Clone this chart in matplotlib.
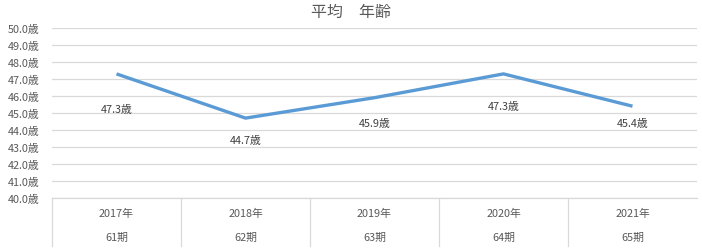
import matplotlib
matplotlib.use("Agg")
import matplotlib.pyplot as plt
import matplotlib.transforms as mtransforms

plt.rcParams['font.family'] = ['Noto Sans CJK JP', 'DejaVu Sans']

years = ["2017年", "2018年", "2019年", "2020年", "2021年"]
periods = ["61期", "62期", "63期", "64期", "65期"]
ages = [47.3, 44.7, 45.9, 47.3, 45.4]
yticks = [40, 41, 42, 43, 44, 45, 46, 47, 48, 49, 50]

title = "平均　年齢"
text_color = "#595959"
grid_color = "#D9D9D9"
line_color = "#5B9BD5"
label_offsets = [-25, -16, -18, -23, -12]  # points, style only

fig = plt.figure(figsize=(7.02, 2.51), dpi=100)
ax = fig.add_axes([52/702, 1-199/251, 645/702, 170/251])

x = list(range(len(ages)))
ax.plot(x, ages, color=line_color, lw=2.4, solid_capstyle='butt', zorder=3)
for xi, v, off in zip(x, ages, label_offsets):
    ax.annotate(f"{v:.1f}歳", (xi, v), xytext=(0, off), textcoords='offset points',
                ha='center', va='center', fontsize=7.8, color='#404040')

ax.set_xlim(-0.5, len(ages) - 0.5)
ax.set_ylim(40, 50)
ax.set_yticks(yticks)
ax.set_yticklabels([f"{t:.1f}歳" for t in yticks], fontsize=7.8, color=text_color)
ax.tick_params(axis='y', length=0, pad=9)
ax.set_xticks([])
ax.grid(axis='y', color=grid_color, lw=0.9)
for s in ['top', 'right', 'left']:
    ax.spines[s].set_visible(False)
ax.spines['bottom'].set_color(grid_color)
ax.spines['bottom'].set_linewidth(0.9)

trans = mtransforms.blended_transform_factory(ax.transData, ax.transAxes)
for b in [i - 0.5 for i in range(len(ages))]:
    ax.plot([b, b], [0, -48/170], transform=trans, color=grid_color, lw=0.9, clip_on=False)
for xi, yr, pr in zip(x, years, periods):
    ax.text(xi, -15/170, yr, transform=trans, ha='center', va='center', fontsize=7.8, color=text_color)
    ax.text(xi, -39/170, pr, transform=trans, ha='center', va='center', fontsize=7.8, color=text_color)

fig.text(0.5, 1-12/251, title, ha='center', va='center', fontsize=11.5, color=text_color)

fig.savefig("out.png", dpi=100)
